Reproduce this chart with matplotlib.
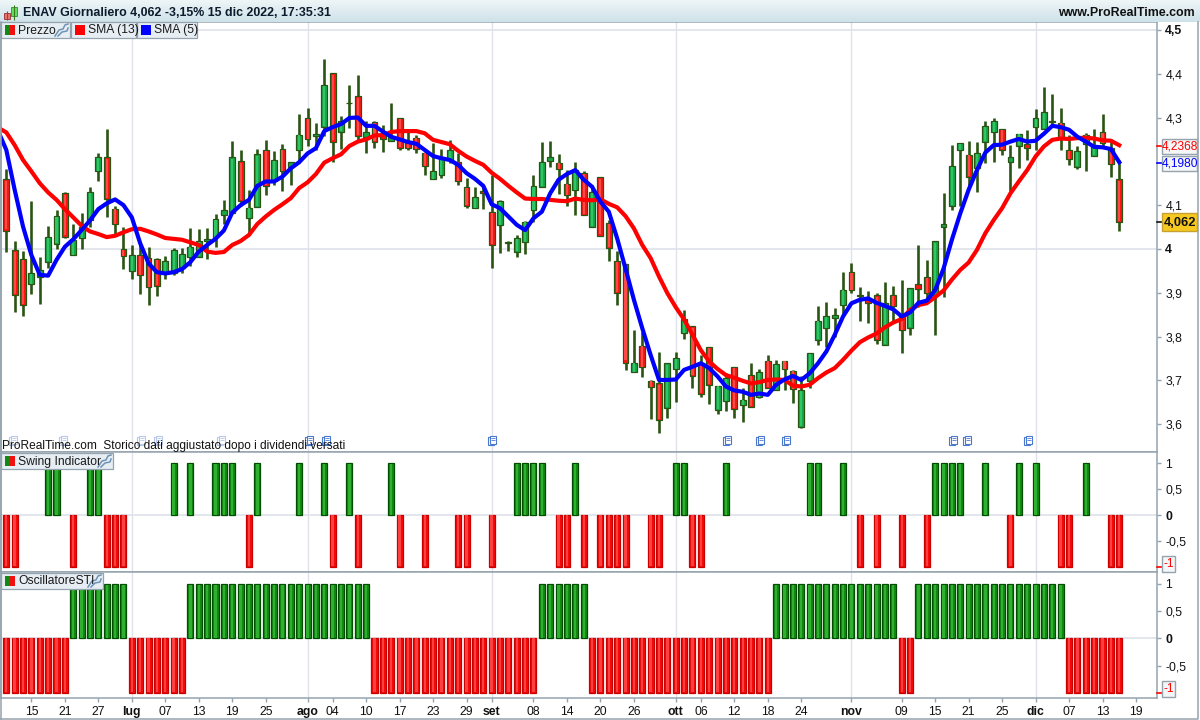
# ENAV daily chart with swing indicator and STI oscillator
import matplotlib
matplotlib.use('Agg')
import matplotlib.pyplot as plt
from matplotlib.patches import Rectangle
import numpy as np

# Prices, one value per trading day (10 giu - 15 dic 2022)
opens = [4.159, 3.997, 3.978, 3.919, 3.937, 3.971, 4.011, 4.127, 3.986, 4.024,
         4.065, 4.177, 4.209, 4.092, 3.999, 3.949, 3.986, 3.98, 3.976, 3.944,
         3.944, 3.956, 3.981, 3.982, 4.018, 4.027, 4.078, 4.081, 4.2, 4.07,
         4.095, 4.225, 4.155, 4.228, 4.188, 4.225, 4.298, 4.257, 4.278, 4.401,
         4.268, 4.332, 4.348, 4.256, 4.289, 4.26, 4.247, 4.298, 4.245, 4.254,
         4.22, 4.159, 4.168, 4.203, 4.199, 4.141, 4.093, 4.133, 4.084, 4.054,
         4.014, 3.994, 4.015, 4.088, 4.141, 4.2, 4.197, 4.149, 4.134, 4.173,
         4.049, 4.164, 4.059, 3.973, 3.965, 3.718, 3.779, 3.698, 3.693, 3.636,
         3.725, 3.807, 3.823, 3.739, 3.776, 3.632, 3.652, 3.73, 3.643, 3.712,
         3.661, 3.745, 3.678, 3.745, 3.722, 3.593, 3.698, 3.792, 3.819, 3.842,
         3.871, 3.947, 3.893, 3.887, 3.894, 3.781, 3.894, 3.849, 3.819, 3.919,
         3.935, 3.895, 4.05, 4.097, 4.225, 4.215, 4.184, 4.245, 4.266, 4.273,
         4.198, 4.236, 4.239, 4.278, 4.274, 4.289, 4.288, 4.225, 4.188, 4.239,
         4.213, 4.266, 4.23, 4.159]
highs = [4.182, 4.018, 3.995, 4.11, 3.981, 4.053, 4.089, 4.129, 4.057, 4.081,
         4.141, 4.218, 4.274, 4.097, 4.049, 4.009, 4.008, 4.005, 3.979, 3.984,
         4.002, 4.002, 4.047, 4.045, 4.047, 4.079, 4.112, 4.247, 4.226, 4.135,
         4.228, 4.249, 4.224, 4.24, 4.198, 4.308, 4.321, 4.287, 4.434, 4.401,
         4.304, 4.374, 4.396, 4.293, 4.292, 4.283, 4.333, 4.298, 4.269, 4.26,
         4.222, 4.241, 4.228, 4.249, 4.22, 4.161, 4.142, 4.144, 4.169, 4.112,
         4.017, 4.032, 4.063, 4.168, 4.244, 4.246, 4.216, 4.18, 4.199, 4.177,
         4.146, 4.164, 4.065, 3.995, 3.965, 3.815, 3.811, 3.701, 3.764, 3.739,
         3.764, 3.861, 3.824, 3.758, 3.776, 3.688, 3.716, 3.73, 3.682, 3.739,
         3.725, 3.758, 3.747, 3.745, 3.724, 3.709, 3.763, 3.87, 3.878, 3.865,
         3.947, 3.967, 3.912, 3.904, 3.899, 3.924, 3.916, 3.929, 3.91, 4.009,
         3.975, 4.017, 4.127, 4.237, 4.241, 4.247, 4.244, 4.292, 4.299, 4.273,
         4.237, 4.262, 4.272, 4.32, 4.369, 4.354, 4.322, 4.26, 4.234, 4.264,
         4.273, 4.308, 4.25, 4.203]
lows = [3.994, 3.855, 3.847, 3.897, 3.875, 3.957, 4.0, 4.024, 3.986, 4.0,
        4.051, 4.154, 4.074, 4.034, 3.955, 3.932, 3.898, 3.871, 3.893, 3.932,
        3.941, 3.946, 3.96, 3.982, 3.976, 4.005, 4.057, 4.081, 4.097, 4.032,
        4.095, 4.123, 4.146, 4.133, 4.145, 4.196, 4.234, 4.226, 4.258, 4.199,
        4.229, 4.277, 4.249, 4.218, 4.231, 4.222, 4.247, 4.225, 4.225, 4.22,
        4.169, 4.159, 4.161, 4.197, 4.146, 4.094, 4.093, 4.091, 3.956, 3.99,
        3.996, 3.982, 3.988, 4.062, 4.141, 4.188, 4.126, 4.097, 4.078, 4.078,
        4.049, 4.029, 3.973, 3.871, 3.724, 3.718, 3.707, 3.611, 3.579, 3.615,
        3.651, 3.794, 3.683, 3.663, 3.645, 3.623, 3.631, 3.613, 3.606, 3.639,
        3.659, 3.683, 3.677, 3.677, 3.648, 3.591, 3.682, 3.781, 3.777, 3.8,
        3.846, 3.9, 3.836, 3.832, 3.782, 3.781, 3.834, 3.762, 3.804, 3.867,
        3.884, 3.804, 3.89, 4.088, 4.097, 4.144, 4.131, 4.197, 4.199, 4.215,
        4.133, 4.184, 4.203, 4.226, 4.274, 4.279, 4.226, 4.192, 4.183, 4.177,
        4.213, 4.234, 4.165, 4.04]
closes = [4.041, 3.894, 3.871, 3.944, 3.951, 4.027, 4.075, 4.028, 4.021, 4.051,
          4.129, 4.209, 4.113, 4.056, 3.984, 3.986, 3.94, 3.912, 3.916, 3.972,
          3.997, 3.988, 4.004, 4.017, 4.022, 4.068, 4.088, 4.209, 4.109, 4.093,
          4.216, 4.144, 4.202, 4.177, 4.198, 4.26, 4.25, 4.262, 4.374, 4.244,
          4.291, 4.334, 4.258, 4.268, 4.245, 4.25, 4.255, 4.23, 4.23, 4.228,
          4.189, 4.177, 4.209, 4.225, 4.154, 4.099, 4.118, 4.127, 4.008, 4.109,
          4.016, 4.024, 4.062, 4.143, 4.198, 4.209, 4.182, 4.123, 4.18, 4.078,
          4.129, 4.029, 4.002, 3.899, 3.739, 3.74, 3.73, 3.684, 3.61, 3.739,
          3.75, 3.839, 3.71, 3.67, 3.689, 3.688, 3.705, 3.634, 3.655, 3.639,
          3.718, 3.683, 3.737, 3.725, 3.68, 3.678, 3.763, 3.836, 3.846, 3.85,
          3.907, 3.906, 3.896, 3.877, 3.792, 3.877, 3.87, 3.814, 3.91, 3.908,
          3.899, 4.017, 4.056, 4.19, 4.241, 4.164, 4.218, 4.28, 4.291, 4.226,
          4.209, 4.262, 4.23, 4.298, 4.312, 4.293, 4.253, 4.205, 4.223, 4.26,
          4.237, 4.241, 4.193, 4.062]

# Moving averages, first value is the bar before the window
sma13 = [4.277, 4.266, 4.237, 4.203, 4.177, 4.15, 4.129, 4.112, 4.091, 4.072, 4.053,
         4.04, 4.034, 4.027, 4.03, 4.038, 4.045, 4.046, 4.04, 4.033, 4.025,
         4.023, 4.021, 4.015, 4.009, 3.994, 3.991, 3.993, 4.009, 4.018, 4.032,
         4.057, 4.074, 4.089, 4.102, 4.116, 4.139, 4.152, 4.171, 4.197, 4.207,
         4.216, 4.235, 4.245, 4.25, 4.259, 4.26, 4.267, 4.269, 4.269, 4.269,
         4.264, 4.249, 4.244, 4.239, 4.224, 4.211, 4.201, 4.192, 4.174, 4.16,
         4.144, 4.129, 4.115, 4.114, 4.114, 4.112, 4.11, 4.109, 4.115, 4.112,
         4.111, 4.113, 4.103, 4.095, 4.075, 4.047, 4.009, 3.979, 3.937, 3.899,
         3.867, 3.839, 3.804, 3.769, 3.743, 3.726, 3.712, 3.706, 3.699, 3.693,
         3.696, 3.701, 3.702, 3.701, 3.688, 3.686, 3.69, 3.705, 3.718, 3.728,
         3.747, 3.768, 3.787, 3.798, 3.807, 3.821, 3.832, 3.84, 3.861, 3.872,
         3.876, 3.89, 3.905, 3.93, 3.952, 3.969, 3.998, 4.036, 4.066, 4.093,
         4.127, 4.154, 4.18, 4.211, 4.234, 4.249, 4.252, 4.251, 4.253, 4.254,
         4.252, 4.248, 4.247, 4.2368]
sma5 = [4.27, 4.226, 4.135, 4.051, 3.986, 3.941, 3.939, 3.975, 4.005, 4.022, 4.043,
        4.065, 4.091, 4.104, 4.113, 4.1, 4.072, 4.013, 3.967, 3.947, 3.944,
        3.947, 3.954, 3.97, 3.994, 4.009, 4.023, 4.042, 4.083, 4.1, 4.112,
        4.144, 4.154, 4.154, 4.165, 4.184, 4.198, 4.218, 4.23, 4.269, 4.278,
        4.285, 4.299, 4.3, 4.281, 4.281, 4.268, 4.256, 4.25, 4.244, 4.24,
        4.226, 4.212, 4.207, 4.203, 4.192, 4.173, 4.16, 4.144, 4.102, 4.093,
        4.074, 4.055, 4.043, 4.07, 4.085, 4.127, 4.158, 4.171, 4.18, 4.158,
        4.142, 4.108, 4.085, 4.024, 3.955, 3.884, 3.819, 3.758, 3.701, 3.701,
        3.702, 3.724, 3.731, 3.739, 3.728, 3.709, 3.686, 3.677, 3.674, 3.667,
        3.67, 3.667, 3.69, 3.702, 3.71, 3.701, 3.716, 3.739, 3.766, 3.804,
        3.846, 3.876, 3.884, 3.887, 3.877, 3.87, 3.862, 3.846, 3.855, 3.877,
        3.882, 3.906, 3.955, 4.021, 4.081, 4.135, 4.18, 4.22, 4.237, 4.238,
        4.245, 4.251, 4.245, 4.247, 4.263, 4.281, 4.278, 4.272, 4.256, 4.245,
        4.233, 4.232, 4.228, 4.198]

# Swing indicator: bars at +1 and at -1
swing_up = [5, 6, 10, 11, 20, 22, 25, 26, 27, 30, 35, 38, 41, 46, 61, 62, 63, 64,
            68, 80, 81, 86, 96, 97, 100, 111, 112, 113, 114, 117, 121, 123, 129]
swing_down = [0, 1, 8, 12, 13, 14, 29, 39, 42, 47, 50, 54, 55, 58, 66, 67, 69, 71,
              72, 73, 74, 77, 78, 82, 83, 102, 104, 107, 110, 120, 126, 127, 132, 133]

# Oscillator: runs of (first bar, last bar, value)
sti_runs = [(0, 7, -1), (8, 14, 1), (15, 21, -1), (22, 43, 1), (44, 63, -1),
            (64, 69, 1), (70, 91, -1), (92, 106, 1), (107, 108, -1), (109, 126, 1),
            (127, 133, -1)]

# Axis labels
date_ticks = [3, 7, 11, 15, 19, 23, 27, 31, 36, 39, 43, 47, 51, 55, 58, 63, 67, 71, 75,
              80, 83, 87, 91, 95, 101, 107, 111, 115, 119, 123, 127, 131, 135]
date_labels = ['15', '21', '27', 'lug', '07', '13', '19', '25', 'ago', '04', '10', '17',
               '23', '29', 'set', '08', '14', '20', '26', 'ott', '06', '12', '18', '24',
               'nov', '09', '15', '21', '25', 'dic', '07', '13', '19']
month_ticks = [15, 36, 58, 80, 101, 123]
price_ticks = [3.6, 3.7, 3.8, 3.9, 4.0, 4.1, 4.3, 4.4, 4.5]
price_labels = ['3,6', '3,7', '3,8', '3,9', '4', '4,1', '4,3', '4,4', '4,5']
price_bold = ['4', '4,5']
icon_px = [12, 62, 140, 157, 220, 308, 325, 491, 726, 759, 785, 952, 966, 1027]

W, H = 1200, 720
BAR0, BAR_STEP = 6.3, 8.368
LEFT, RIGHT = 1, 1157
FONT = 'Liberation Sans'
AXIS_C = '#94a3ad'
GRID_C = '#dfe2ea'
WICK_C = '#2a5412'
UP_C, UP_HI = '#17a84b', '#2fc766'
DOWN_C, DOWN_HI = '#ff1414', '#ff4a4a'

plt.rcParams['font.family'] = [FONT, 'DejaVu Sans']


def px_axes(fig, x0, y0, x1, y1, **kw):
    return fig.add_axes([x0 / W, 1 - y1 / H, (x1 - x0) / W, (y1 - y0) / H], **kw)


def style_panel(ax, ymin, ymax, ticks, labels, bold):
    ax.set_xlim((LEFT - BAR0) / BAR_STEP, (RIGHT - BAR0) / BAR_STEP)
    ax.set_ylim(ymin, ymax)
    ax.yaxis.tick_right()
    ax.set_yticks(ticks)
    ax.set_yticklabels(labels, fontsize=8.8, color='#111111')
    for lbl in ax.get_yticklabels():
        if lbl.get_text() in bold:
            lbl.set_fontweight('bold')
    ax.tick_params(axis='y', length=3, width=1, color=AXIS_C, pad=3)
    ax.set_xticks([])
    for side in ['left', 'bottom', 'right', 'top']:
        ax.spines[side].set_color(AXIS_C)
        ax.spines[side].set_linewidth(1.1)
    for m in month_ticks:
        ax.axvline(m, color=GRID_C, lw=1, zorder=0)


def hist_bars(ax, idx, values, fill, hi, edge):
    ax.bar(idx, values, width=0.72, color=fill, edgecolor=edge, linewidth=0.9, zorder=3)
    ax.bar(idx, np.array(values) * 0.98, width=0.28, color=hi, linewidth=0, zorder=4)


fig = plt.figure(figsize=(W / 100, H / 100), dpi=100, facecolor='white')

# Price panel
ax = px_axes(fig, LEFT, 22, RIGHT, 452)
style_panel(ax, 3.5365, 4.518, price_ticks, price_labels, price_bold)
ax.axhline(4.0, color=GRID_C, lw=1.2, zorder=0)
ax.axhline(4.5, color=GRID_C, lw=1.2, zorder=0)

bars = np.arange(len(closes))
o, h, l, c = map(np.array, (opens, highs, lows, closes))
ax.vlines(bars, l, h, color=WICK_C, lw=1.9, zorder=2)
up = c >= o
body_colors = np.where(up, UP_C, DOWN_C)
ax.bar(bars, np.abs(c - o), bottom=np.minimum(o, c), width=0.7, color=body_colors,
       edgecolor=WICK_C, linewidth=0.9, zorder=3)
hi_colors = np.where(up, UP_HI, DOWN_HI)
tall = np.abs(c - o) > 0.012
ax.bar(bars[tall], np.abs(c - o)[tall] * 0.94, bottom=np.minimum(o, c)[tall] + np.abs(c - o)[tall] * 0.03,
       width=0.25, color=hi_colors[tall], linewidth=0, zorder=3.5)

ma_bars = np.arange(-1, len(closes))
ax.plot(ma_bars, sma13, color='#ff0000', lw=3.0, zorder=5, solid_joinstyle='round')
ax.plot(ma_bars, sma5, color='#0000ff', lw=3.0, zorder=6, solid_joinstyle='round')

# Swing panel
ax2 = px_axes(fig, LEFT, 452, RIGHT, 572)
style_panel(ax2, -1.096, 1.218, [-0.5, 0, 0.5, 1], ['-0,5', '0', '0,5', '1'], ['0'])
ax2.axhline(0, color=GRID_C, lw=1.2, zorder=0)
hist_bars(ax2, swing_up, [1] * len(swing_up), '#128a12', '#30b030', '#004d00')
hist_bars(ax2, swing_down, [-1] * len(swing_down), '#f50a0a', '#ff4040', '#c80000')

# Oscillator panel
ax3 = px_axes(fig, LEFT, 572, RIGHT, 698)
style_panel(ax3, -1.097, 1.22, [-0.5, 0, 0.5, 1], ['-0,5', '0', '0,5', '1'], ['0'])
ax3.axhline(0, color=GRID_C, lw=1.2, zorder=0)
for first, last, val in sti_runs:
    idx = list(range(first, last + 1))
    if val > 0:
        hist_bars(ax3, idx, [val] * len(idx), '#128a12', '#30b030', '#004d00')
    else:
        hist_bars(ax3, idx, [val] * len(idx), '#f50a0a', '#ff4040', '#c80000')
ax3.set_xticks(date_ticks)
ax3.set_xticklabels(date_labels, fontsize=8.8, color='#111111')
for lbl in ax3.get_xticklabels():
    if lbl.get_text() in ('lug', 'ago', 'set', 'ott', 'nov', 'dic'):
        lbl.set_fontweight('bold')
ax3.tick_params(axis='x', length=3, width=1, color=AXIS_C, pad=3)

# Everything else is drawn in pixel coordinates on a transparent overlay
top = px_axes(fig, 0, 0, W, H, zorder=20)
top.set_xlim(0, W)
top.set_ylim(H, 0)
top.axis('off')
top.patch.set_alpha(0)

# title strip
strip = px_axes(fig, 0, 0, W, 22, zorder=19)
strip.imshow(np.linspace(0, 1, 22).reshape(-1, 1), aspect='auto',
             cmap=matplotlib.colors.LinearSegmentedColormap.from_list('s', ['#eef5f7', '#cfe2ea']))
strip.axis('off')
top.vlines([6.5, 14], [11, 5], [20, 20], color='#3a7a1a', lw=0.8)
top.add_patch(Rectangle((3.5, 12.5), 6, 6, fc='#f07070', ec='#a04040', lw=0.7))
top.add_patch(Rectangle((11, 6.5), 6, 9.5, fc='#60e060', ec='#3a9a3a', lw=0.7))
top.text(23, 13, 'ENAV Giornaliero 4,062 -3,15% 15 dic 2022, 17:35:31', fontsize=8.9,
         fontweight='bold', color='#0c1c2c', va='center')
top.text(1195, 13, 'www.ProRealTime.com', fontsize=8.9, fontweight='bold', color='#111111',
         va='center', ha='right')


def tab(x0, x1, y0, label, swatch, wrench=False):
    top.add_patch(Rectangle((x0, y0), x1 - x0, 16, fc='#e6eef3', ec=AXIS_C, lw=0.9))
    if swatch == 'pair':
        top.add_patch(Rectangle((x0 + 4, y0 + 3), 5, 10, fc='#128a12', lw=0))
        top.add_patch(Rectangle((x0 + 9, y0 + 3), 5, 10, fc='#f01010', lw=0))
    else:
        top.add_patch(Rectangle((x0 + 4, y0 + 3), 10, 10, fc=swatch, lw=0))
    top.text(x0 + 17, y0 + 8.5, label, fontsize=8.7, color='#1a1a1a', va='center')
    if wrench:
        wx = x1 - 15
        top.plot([wx, wx + 4, wx + 8, wx + 10, wx + 13], [y0 + 14, y0 + 8, y0 + 7, y0 + 3, y0 + 2],
                 color='#6f93b5', lw=1.1)
        top.plot([wx + 3, wx + 7, wx + 12, wx + 13], [y0 + 14, y0 + 10, y0 + 9, y0 + 6],
                 color='#6f93b5', lw=1.1)


tab(1, 70, 22, 'Prezzo', 'pair', wrench=True)
tab(71, 136, 22, 'SMA (13)', '#ff0000')
tab(137, 197, 22, 'SMA (5)', '#0000ff')
tab(1, 113, 453, 'Swing Indicator', 'pair', wrench=True)
tab(1, 103, 573, 'OscillatoreSTI', 'pair', wrench=True)

# dividend icons and note
for x in icon_px:
    shade = '#b8c8ea' if x < 300 else '#4a78cc'
    top.add_patch(Rectangle((x - 3.5, 437), 6, 8, fc='white', ec=shade, lw=0.8))
    top.add_patch(Rectangle((x - 1.5, 435.5), 6, 8, fc='white', ec=shade, lw=0.8))
    top.hlines([438, 440], x - 0.5, x + 3.5, color=shade, lw=0.6)
top.text(2, 446, 'ProRealTime.com  Storico dati aggiustato dopo i dividendi versati',
         fontsize=8.6, color='#111111', va='center')

# value boxes on the right scale
def value_box(y0, y1, x1, text, color, tick_color, fc='#f4f6f7', ec=AXIS_C, bold=False, yt=None):
    top.add_patch(Rectangle((1162, y0), x1 - 1162, y1 - y0, fc=fc, ec=ec, lw=1))
    top.text((1162 + x1) / 2, (y0 + y1) / 2 + 0.5, text, color=color, fontsize=9.3 if bold else 8.6,
             fontweight='bold' if bold else 'normal', ha='center', va='center')
    yt = (y0 + y1) / 2 if yt is None else yt
    top.plot([1157, 1161], [yt, yt], color=tick_color, lw=1.2)


value_box(138.5, 153.5, 1197, '4,2368', '#ff0000', '#ff0000')
value_box(156, 170.5, 1197, '4,1980', '#0000ff', '#0000ff')
value_box(213, 231, 1197, '4,062', '#111111', '#111111', fc='#f7c820', ec='#c8a030', bold=True)
value_box(556, 571.5, 1174.5, '-1', '#ff0000', '#ff0000', yt=567)
value_box(681, 697, 1174.5, '-1', '#ff0000', '#ff0000', yt=693)

# outer frame
top.plot([1198, 1198, 0], [22, 719, 719], color=AXIS_C, lw=1.1)
top.plot([0.5, 0.5], [22, 719], color=AXIS_C, lw=1.1)

fig.savefig('out.png', dpi=100, facecolor='white')
